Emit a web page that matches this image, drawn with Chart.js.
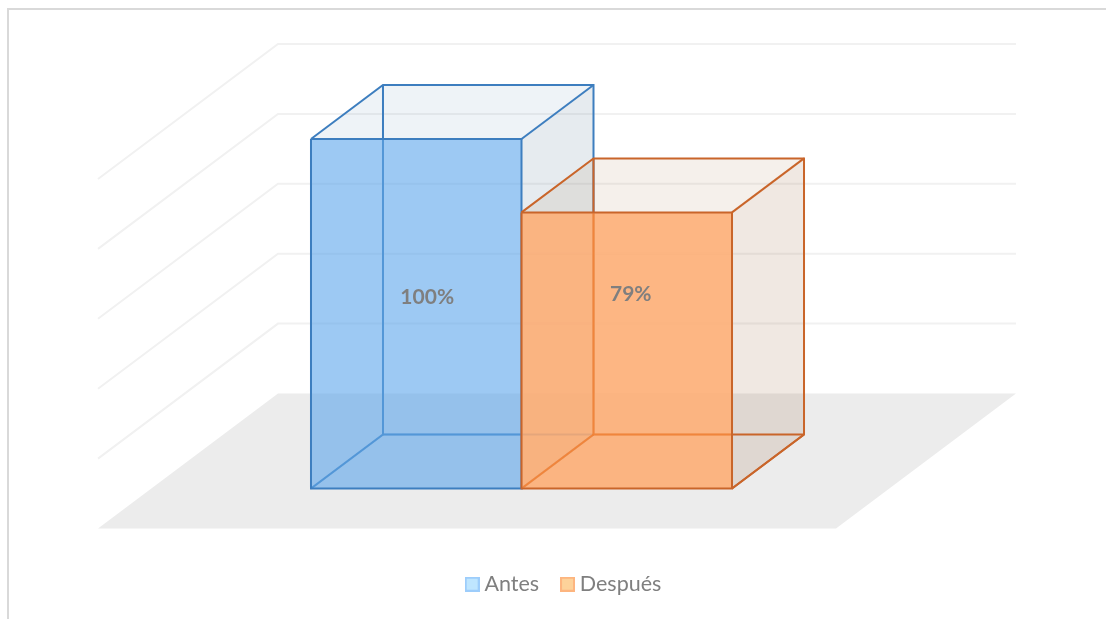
<!DOCTYPE html>
<html lang="es">
  <head>
    <meta charset="UTF-8" />
    <title>Antes y después</title>
    <script src="https://cdn.jsdelivr.net/npm/chart.js@4"></script>
    <style>
      body { margin: 0; background: #fff; }
      canvas { display: block; }
    </style>
  </head>
  <body>
    <canvas id="chart" width="1106" height="619"></canvas>
    <script>
      const categories = ['']
      const seriesNames = ['Antes', 'Después']
      const antesValues = [100]
      const despuesValues = [79]
      const yTicks = [0, 20, 40, 60, 80, 100]

      const frontFill = ['rgba(91,165,235,0.6)', 'rgba(253,172,114,0.88)']
      const edgeColor = ['#3d7ebf', '#c9652a']
      const innerEdge = ['#5b9bd5', '#ed7d31']
      const topFill = ['rgba(91,140,180,0.1)', 'rgba(155,105,55,0.1)']
      const sideFill = ['rgba(80,110,140,0.14)', 'rgba(148,91,50,0.14)']
      const legendFill = ['#bfe6ff', '#fdd29a']
      const legendEdge = ['#9dcdfb', '#fdb57f']
      const labelShift = [[11, -16.5], [4, -56]]

      // 3D projection offsets from the plane the bar fronts sit on
      const floorFront = { x: -54.5, y: 40 }
      const wallBack = { x: 125.5, y: -95 }
      const barDepth = { x: 72, y: -54 }

      function legendSwatch(i) {
        const c = document.createElement('canvas')
        c.width = 15
        c.height = 15
        const g = c.getContext('2d')
        g.fillStyle = legendEdge[i]
        g.fillRect(0, 0, 15, 15)
        g.fillStyle = legendFill[i]
        g.fillRect(2, 2, 11, 11)
        return c
      }

      function poly(ctx, pts, fill, stroke) {
        ctx.beginPath()
        pts.forEach((p, i) => (i ? ctx.lineTo(p[0], p[1]) : ctx.moveTo(p[0], p[1])))
        if (fill) {
          ctx.closePath()
          ctx.fillStyle = fill
          ctx.fill()
        }
        if (stroke) {
          ctx.strokeStyle = stroke
          ctx.lineWidth = 2
          ctx.stroke()
        }
      }

      function barCorners(chart, index) {
        const bar = chart.getDatasetMeta(index).data[0]
        return { l: bar.x - bar.width / 2, r: bar.x + bar.width / 2, t: bar.y, b: bar.base }
      }

      function innerLines(ctx, c, color) {
        const dx = barDepth.x
        const dy = barDepth.y
        poly(ctx, [[c.l + dx, c.t + dy], [c.l + dx, c.b + dy], [c.r + dx, c.b + dy]], null, color)
        poly(ctx, [[c.l, c.b], [c.l + dx, c.b + dy]], null, color)
        poly(ctx, [[c.r, c.b], [c.r + dx, c.b + dy]], null, color)
      }

      function drawBox(chart, i) {
        const ctx = chart.ctx
        const c = barCorners(chart, i)
        const dx = barDepth.x
        const dy = barDepth.y
        ctx.save()
        poly(ctx, [[c.l, c.t], [c.l + dx, c.t + dy], [c.r + dx, c.t + dy], [c.r, c.t]], topFill[i])
        poly(ctx, [[c.r, c.t], [c.r + dx, c.t + dy], [c.r + dx, c.b + dy], [c.r, c.b]], sideFill[i])
        innerLines(ctx, c, edgeColor[i])
        poly(ctx, [[c.l, c.t], [c.l + dx, c.t + dy], [c.r + dx, c.t + dy], [c.r + dx, c.b + dy], [c.r, c.b]], null, edgeColor[i])
        poly(ctx, [[c.r, c.t], [c.r + dx, c.t + dy]], null, edgeColor[i])
        ctx.restore()

        chart.getDatasetMeta(i).controller.draw()

        // back edges seen through the front face
        ctx.save()
        ctx.beginPath()
        ctx.rect(c.l + 1, c.t + 1, c.r - c.l - 2, c.b - c.t - 2)
        ctx.clip()
        ctx.globalAlpha = i === 0 ? 0.35 : 0.8
        innerLines(ctx, c, innerEdge[i])
        ctx.restore()
        ctx.save()
        poly(ctx, [[c.l, c.t], [c.r, c.t], [c.r, c.b], [c.l, c.b], [c.l, c.t]], null, edgeColor[i])
        ctx.restore()
      }

      const chart3d = {
        id: 'chart3d',
        beforeDraw(chart) {
          const ctx = chart.ctx
          ctx.save()
          ctx.fillStyle = '#d9d9d9'
          ctx.fillRect(7, 8, chart.width - 7, 2)
          ctx.fillRect(7, 8, 2, chart.height - 8)
          ctx.restore()
        },
        beforeDatasetsDraw(chart) {
          const ctx = chart.ctx
          const y = chart.scales.y
          const a = chart.chartArea
          const base = y.getPixelForValue(yTicks[0])
          ctx.save()
          poly(ctx, [
            [a.left + floorFront.x, base + floorFront.y],
            [a.right + floorFront.x, base + floorFront.y],
            [a.right + wallBack.x, base + wallBack.y],
            [a.left + wallBack.x, base + wallBack.y],
          ], '#ececec')
          yTicks.slice(1).forEach((t) => {
            const py = y.getPixelForValue(t)
            poly(ctx, [
              [a.left + floorFront.x, py + floorFront.y],
              [a.left + wallBack.x, py + wallBack.y],
              [a.right + wallBack.x, py + wallBack.y],
            ], null, '#f1f1f1')
          })
          ctx.restore()
        },
        // the library paints the last dataset first; here Después has to go on top
        beforeDatasetDraw() {
          return false
        },
        afterDatasetsDraw(chart) {
          const ctx = chart.ctx
          chart.data.datasets.forEach((ds, i) => drawBox(chart, i))
          ctx.save()
          ctx.font = 'bold 21px Lato'
          ctx.fillStyle = '#7f7f7f'
          ctx.textAlign = 'center'
          ctx.textBaseline = 'middle'
          chart.data.datasets.forEach((ds, i) => {
            const c = barCorners(chart, i)
            const midX = (c.l + c.r) / 2 + labelShift[i][0]
            const midY = (c.t + c.b) / 2 + labelShift[i][1]
            ctx.fillText(ds.data[0] + '%', midX, midY)
          })
          ctx.restore()
        },
        afterLayout(chart) {
          // legend sits right of the plot centre in the original
          chart.legend.left += 44.5
          chart.legend.right += 44.5
        },
      }

      new Chart(document.getElementById('chart'), {
        type: 'bar',
        data: {
          labels: categories,
          datasets: [
            {
              label: seriesNames[0],
              data: antesValues,
              backgroundColor: frontFill[0],
              borderWidth: 0,
            },
            {
              label: seriesNames[1],
              data: despuesValues,
              backgroundColor: frontFill[1],
              borderWidth: 0,
            },
          ],
        },
        options: {
          responsive: false,
          animation: false,
          layout: { padding: { left: 152.5, right: 215.5, top: 139, bottom: 14 } },
          categoryPercentage: 0.5705,
          barPercentage: 1,
          scales: {
            x: {
              ticks: { display: false },
              grid: { display: false },
              border: { display: false },
              afterFit: (scale) => {
                scale.height = 58
              },
            },
            y: {
              min: yTicks[0],
              max: yTicks[yTicks.length - 1],
              ticks: { display: false, stepSize: 20 },
              grid: { display: false },
              border: { display: false },
              afterFit: (scale) => {
                scale.width = 0
              },
            },
          },
          plugins: {
            tooltip: { enabled: false },
            legend: {
              position: 'bottom',
              labels: {
                color: '#7f7f7f',
                font: { family: 'Lato', size: 21.5 },
                usePointStyle: true,
                pointStyleWidth: 3,
                padding: 27,
                generateLabels: () =>
                  seriesNames.map((name, i) => ({
                    text: name,
                    pointStyle: legendSwatch(i),
                    datasetIndex: i,
                    fontColor: '#7f7f7f',
                  })),
              },
            },
          },
        },
        plugins: [chart3d],
      })
    </script>
  </body>
</html>
